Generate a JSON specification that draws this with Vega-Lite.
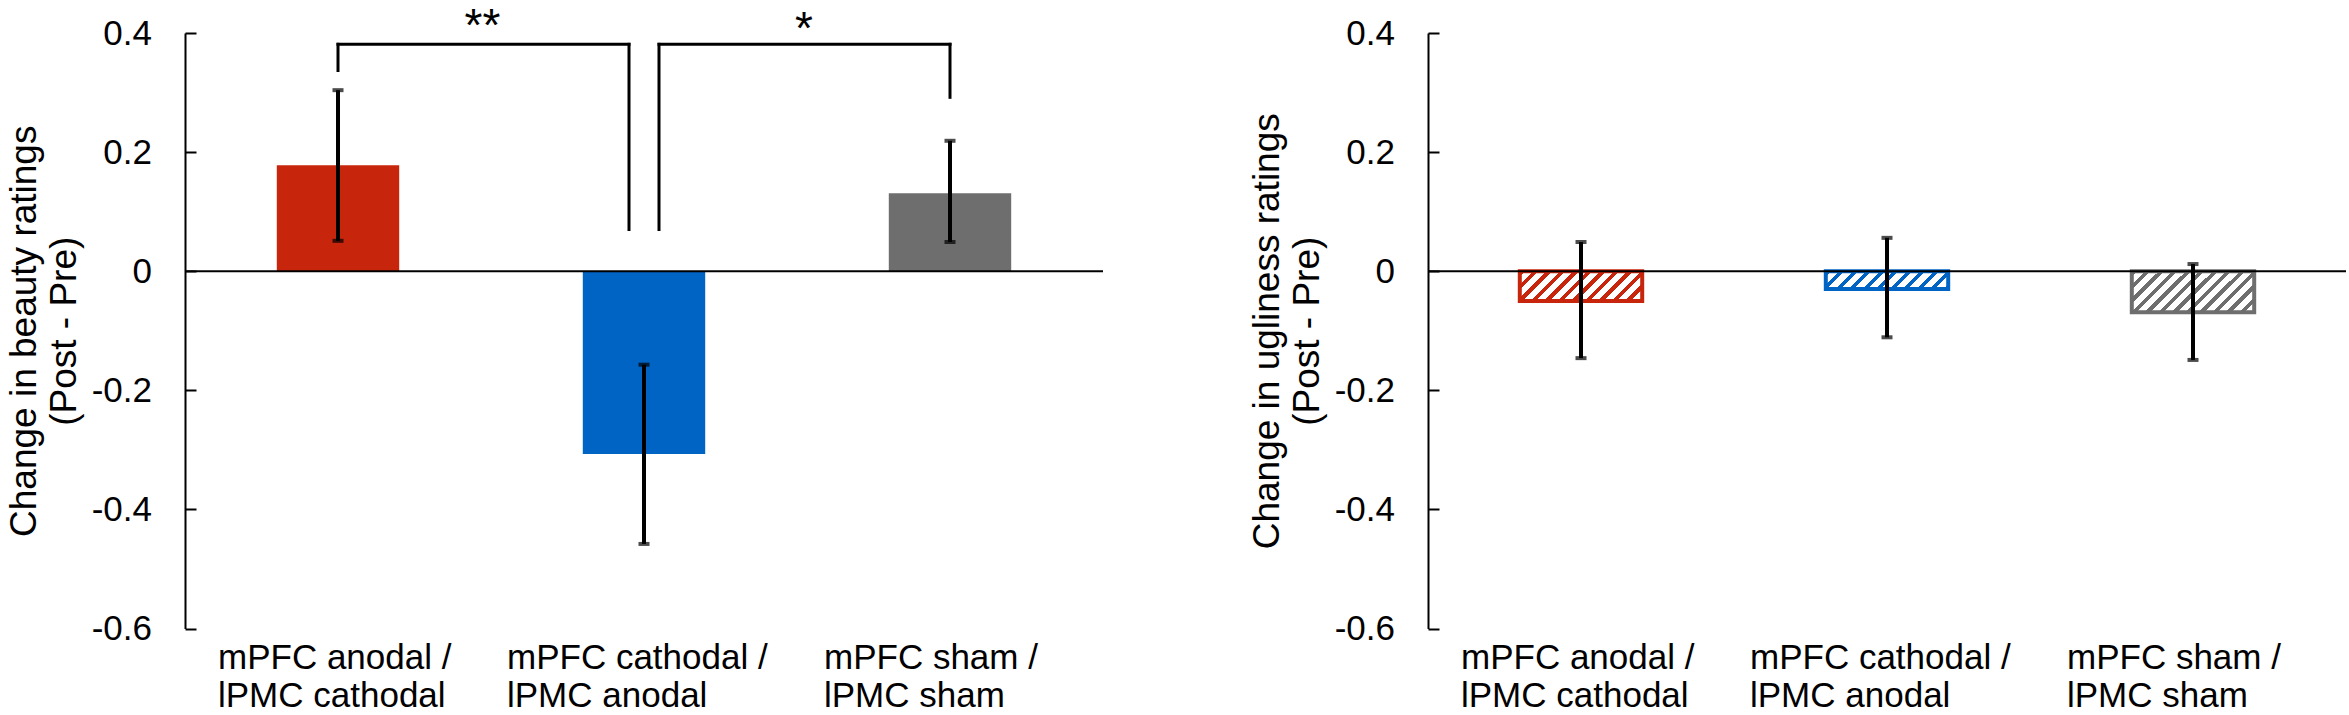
{
  "$schema": "https://vega.github.io/schema/vega-lite/v6.json",
  "padding": {"left": 5, "top": 4, "right": 0, "bottom": 0},
  "background": "white",
  "bounds": "flush",
  "spacing": 325,
  "config": {
    "view": {"stroke": null},
    "font": "Liberation Sans",
    "axis": {"labelColor": "black", "titleColor": "black", "domainColor": "black", "tickColor": "black"}
  },
  "datasets": {
    "beauty": [
      {"cond": "mPFC anodal / lPMC cathodal", "mean": 0.178, "lo": 0.051, "hi": 0.304},
      {"cond": "mPFC cathodal / lPMC anodal", "mean": -0.307, "lo": -0.458, "hi": -0.157},
      {"cond": "mPFC sham / lPMC sham", "mean": 0.131, "lo": 0.049, "hi": 0.219}
    ],
    "ugly": [
      {"cond": "mPFC anodal / lPMC cathodal", "mean": -0.05, "lo": -0.146, "hi": 0.049},
      {"cond": "mPFC cathodal / lPMC anodal", "mean": -0.03, "lo": -0.111, "hi": 0.056},
      {"cond": "mPFC sham / lPMC sham", "mean": -0.069, "lo": -0.149, "hi": 0.012}
    ]
  },
  "hconcat": [
    {
      "width": 918,
      "height": 595.5,
      "layer": [
        {
          "data": {"name": "beauty"},
          "mark": {"type": "bar"},
          "encoding": {
            "x": {
              "field": "cond", "type": "nominal",
              "scale": {"domain": ["mPFC anodal / lPMC cathodal", "mPFC cathodal / lPMC anodal", "mPFC sham / lPMC sham"], "paddingInner": 0.6, "paddingOuter": 0.3},
              "axis": {
                "title": null, "domain": false, "ticks": false, "labelAngle": 0, "labelAlign": "left", "labelBaseline": "top",
                "labelOffset": {"condition": [{"test": "datum.value == 'mPFC cathodal / lPMC anodal'", "value": -137}, {"test": "datum.value == 'mPFC sham / lPMC sham'", "value": -126}], "value": -120},
                "labelExpr": "[slice(datum.label, 0, indexof(datum.label, '/') + 1), slice(datum.label, indexof(datum.label, '/') + 2)]",
                "labelPadding": 12, "labelFontSize": 35, "labelLineHeight": 38, "labelOverlap": false, "labelLimit": 600
              }
            },
            "y": {
              "field": "mean", "type": "quantitative",
              "scale": {"domain": [-0.6, 0.4], "nice": false, "zero": false},
              "title": ["Change in beauty ratings", "(Post - Pre)"],
              "axis": {
                "values": [-0.6, -0.4, -0.2, 0, 0.2, 0.4], "grid": false, "tickSize": -11, "tickWidth": 2, "domainWidth": 2,
                "labelPadding": 44.5, "labelFontSize": 35,
                "labelExpr": "datum.value == 0 ? '0' : (datum.value < 0 ? '-' : '') + format(abs(datum.value), '.1f')",
                "titleFontSize": 37, "titleFontWeight": "normal", "titleLineHeight": 40, "titlePadding": 8
              }
            },
            "color": {
              "field": "cond", "type": "nominal", "legend": null,
              "scale": {"domain": ["mPFC anodal / lPMC cathodal", "mPFC cathodal / lPMC anodal", "mPFC sham / lPMC sham"], "range": ["#C8260C", "#0064C4", "#6E6E6E"]}
            }
          }
        },
        {
          "data": {"values": [{"zero": 0}]},
          "mark": {"type": "rule", "color": "black", "strokeWidth": 2},
          "encoding": {"y": {"field": "zero", "type": "quantitative"}}
        },
        {
          "data": {"name": "beauty"},
          "mark": {"type": "rule", "color": "black", "strokeWidth": 4},
          "encoding": {
            "x": {"field": "cond", "type": "nominal"},
            "y": {"field": "lo", "type": "quantitative"},
            "y2": {"field": "hi"}
          }
        },
        {
          "data": {"name": "beauty"},
          "mark": {"type": "tick", "color": "black", "size": 11, "thickness": 4, "orient": "horizontal"},
          "encoding": {
            "x": {"field": "cond", "type": "nominal"},
            "y": {"field": "lo", "type": "quantitative"}
          }
        },
        {
          "data": {"name": "beauty"},
          "mark": {"type": "tick", "color": "black", "size": 11, "thickness": 4, "orient": "horizontal"},
          "encoding": {
            "x": {"field": "cond", "type": "nominal"},
            "y": {"field": "hi", "type": "quantitative"}
          }
        },
        {
          "data": {"values": [{"a": "mPFC anodal / lPMC cathodal", "b": "mPFC cathodal / lPMC anodal", "y": 0.381}]},
          "mark": {"type": "rule", "color": "black", "strokeWidth": 3, "strokeCap": "square", "x2Offset": -15},
          "encoding": {
            "x": {"field": "a", "type": "nominal"},
            "x2": {"field": "b"},
            "y": {"field": "y", "type": "quantitative"}
          }
        },
        {
          "data": {"values": [{"a": "mPFC cathodal / lPMC anodal", "b": "mPFC sham / lPMC sham", "y": 0.381}]},
          "mark": {"type": "rule", "color": "black", "strokeWidth": 3, "strokeCap": "square", "xOffset": 15},
          "encoding": {
            "x": {"field": "a", "type": "nominal"},
            "x2": {"field": "b"},
            "y": {"field": "y", "type": "quantitative"}
          }
        },
        {
          "data": {"values": [
            {"a": "mPFC anodal / lPMC cathodal", "y": 0.337, "y2": 0.381},
            {"a": "mPFC sham / lPMC sham", "y": 0.292, "y2": 0.381}
          ]},
          "mark": {"type": "rule", "color": "black", "strokeWidth": 3, "strokeCap": "square"},
          "encoding": {
            "x": {"field": "a", "type": "nominal"},
            "y": {"field": "y", "type": "quantitative"},
            "y2": {"field": "y2"}
          }
        },
        {
          "data": {"values": [{"a": "mPFC cathodal / lPMC anodal", "y": 0.07, "y2": 0.381}]},
          "mark": {"type": "rule", "color": "black", "strokeWidth": 3, "strokeCap": "square", "xOffset": -15},
          "encoding": {
            "x": {"field": "a", "type": "nominal"},
            "y": {"field": "y", "type": "quantitative"},
            "y2": {"field": "y2"}
          }
        },
        {
          "data": {"values": [{"a": "mPFC cathodal / lPMC anodal", "y": 0.07, "y2": 0.381}]},
          "mark": {"type": "rule", "color": "black", "strokeWidth": 3, "strokeCap": "square", "xOffset": 15},
          "encoding": {
            "x": {"field": "a", "type": "nominal"},
            "y": {"field": "y", "type": "quantitative"},
            "y2": {"field": "y2"}
          }
        },
        {
          "data": {"values": [{"a": "mPFC cathodal / lPMC anodal", "y": 0.386, "label": "**"}]},
          "mark": {"type": "text", "color": "black", "fontSize": 46, "baseline": "alphabetic", "align": "center", "dx": -161.5},
          "encoding": {
            "x": {"field": "a", "type": "nominal"},
            "y": {"field": "y", "type": "quantitative"},
            "text": {"field": "label"}
          }
        },
        {
          "data": {"values": [{"a": "mPFC sham / lPMC sham", "y": 0.382, "label": "*"}]},
          "mark": {"type": "text", "color": "black", "fontSize": 46, "baseline": "alphabetic", "align": "center", "dx": -146},
          "encoding": {
            "x": {"field": "a", "type": "nominal"},
            "y": {"field": "y", "type": "quantitative"},
            "text": {"field": "label"}
          }
        }
      ]
    },
    {
      "width": 918,
      "height": 595.5,
      "layer": [
        {
          "data": {"name": "ugly"},
          "transform": [{"filter": "datum.cond == 'mPFC anodal / lPMC cathodal'"}],
          "mark": {"type": "bar", "stroke": "#C8260C", "strokeWidth": 4,
            "fill": {"gradient": "linear", "x1": 0, "y1": 0, "x2": 1.388, "y2": 0.338, "stops": [
              {"offset": 0, "color": "#C8260C"}, {"offset": 0.03, "color": "#C8260C"}, {"offset": 0.03, "color": "#FFFFFF"}, {"offset": 0.075, "color": "#FFFFFF"},
              {"offset": 0.075, "color": "#C8260C"}, {"offset": 0.105, "color": "#C8260C"}, {"offset": 0.105, "color": "#FFFFFF"}, {"offset": 0.15, "color": "#FFFFFF"},
              {"offset": 0.15, "color": "#C8260C"}, {"offset": 0.18, "color": "#C8260C"}, {"offset": 0.18, "color": "#FFFFFF"}, {"offset": 0.225, "color": "#FFFFFF"},
              {"offset": 0.225, "color": "#C8260C"}, {"offset": 0.255, "color": "#C8260C"}, {"offset": 0.255, "color": "#FFFFFF"}, {"offset": 0.3, "color": "#FFFFFF"},
              {"offset": 0.3, "color": "#C8260C"}, {"offset": 0.33, "color": "#C8260C"}, {"offset": 0.33, "color": "#FFFFFF"}, {"offset": 0.375, "color": "#FFFFFF"},
              {"offset": 0.375, "color": "#C8260C"}, {"offset": 0.405, "color": "#C8260C"}, {"offset": 0.405, "color": "#FFFFFF"}, {"offset": 0.45, "color": "#FFFFFF"},
              {"offset": 0.45, "color": "#C8260C"}, {"offset": 0.48, "color": "#C8260C"}, {"offset": 0.48, "color": "#FFFFFF"}, {"offset": 0.525, "color": "#FFFFFF"},
              {"offset": 0.525, "color": "#C8260C"}, {"offset": 0.555, "color": "#C8260C"}, {"offset": 0.555, "color": "#FFFFFF"}, {"offset": 0.6, "color": "#FFFFFF"},
              {"offset": 0.6, "color": "#C8260C"}, {"offset": 0.63, "color": "#C8260C"}, {"offset": 0.63, "color": "#FFFFFF"}, {"offset": 0.675, "color": "#FFFFFF"},
              {"offset": 0.675, "color": "#C8260C"}, {"offset": 0.705, "color": "#C8260C"}, {"offset": 0.705, "color": "#FFFFFF"}, {"offset": 0.75, "color": "#FFFFFF"},
              {"offset": 0.75, "color": "#C8260C"}, {"offset": 0.78, "color": "#C8260C"}, {"offset": 0.78, "color": "#FFFFFF"}, {"offset": 0.825, "color": "#FFFFFF"},
              {"offset": 0.825, "color": "#C8260C"}, {"offset": 0.855, "color": "#C8260C"}, {"offset": 0.855, "color": "#FFFFFF"}, {"offset": 0.9, "color": "#FFFFFF"},
              {"offset": 0.9, "color": "#C8260C"}, {"offset": 0.93, "color": "#C8260C"}, {"offset": 0.93, "color": "#FFFFFF"}, {"offset": 1, "color": "#FFFFFF"}
            ]}
          },
          "encoding": {
            "x": {
              "field": "cond", "type": "nominal",
              "scale": {"domain": ["mPFC anodal / lPMC cathodal", "mPFC cathodal / lPMC anodal", "mPFC sham / lPMC sham"], "paddingInner": 0.6, "paddingOuter": 0.3},
              "axis": {
                "title": null, "domain": false, "ticks": false, "labelAngle": 0, "labelAlign": "left", "labelBaseline": "top",
                "labelOffset": {"condition": [{"test": "datum.value == 'mPFC cathodal / lPMC anodal'", "value": -137}, {"test": "datum.value == 'mPFC sham / lPMC sham'", "value": -126}], "value": -120},
                "labelExpr": "[slice(datum.label, 0, indexof(datum.label, '/') + 1), slice(datum.label, indexof(datum.label, '/') + 2)]",
                "labelPadding": 12, "labelFontSize": 35, "labelLineHeight": 38, "labelOverlap": false, "labelLimit": 600
              }
            },
            "y": {
              "field": "mean", "type": "quantitative",
              "scale": {"domain": [-0.6, 0.4], "nice": false, "zero": false},
              "title": ["Change in ugliness ratings", "(Post - Pre)"],
              "axis": {
                "values": [-0.6, -0.4, -0.2, 0, 0.2, 0.4], "grid": false, "tickSize": -11, "tickWidth": 2, "domainWidth": 2,
                "labelPadding": 44.5, "labelFontSize": 35,
                "labelExpr": "datum.value == 0 ? '0' : (datum.value < 0 ? '-' : '') + format(abs(datum.value), '.1f')",
                "titleFontSize": 37, "titleFontWeight": "normal", "titleLineHeight": 40, "titlePadding": 8
              }
            },
            "y2": {"datum": 0}
          }
        },
        {
          "data": {"name": "ugly"},
          "transform": [{"filter": "datum.cond == 'mPFC cathodal / lPMC anodal'"}],
          "mark": {"type": "bar", "stroke": "#0064C4", "strokeWidth": 4,
            "fill": {"gradient": "linear", "x1": 0, "y1": 0, "x2": 1.44, "y2": 0.21, "stops": [
              {"offset": 0, "color": "#0064C4"}, {"offset": 0.03, "color": "#0064C4"}, {"offset": 0.03, "color": "#FFFFFF"}, {"offset": 0.075, "color": "#FFFFFF"},
              {"offset": 0.075, "color": "#0064C4"}, {"offset": 0.105, "color": "#0064C4"}, {"offset": 0.105, "color": "#FFFFFF"}, {"offset": 0.15, "color": "#FFFFFF"},
              {"offset": 0.15, "color": "#0064C4"}, {"offset": 0.18, "color": "#0064C4"}, {"offset": 0.18, "color": "#FFFFFF"}, {"offset": 0.225, "color": "#FFFFFF"},
              {"offset": 0.225, "color": "#0064C4"}, {"offset": 0.255, "color": "#0064C4"}, {"offset": 0.255, "color": "#FFFFFF"}, {"offset": 0.3, "color": "#FFFFFF"},
              {"offset": 0.3, "color": "#0064C4"}, {"offset": 0.33, "color": "#0064C4"}, {"offset": 0.33, "color": "#FFFFFF"}, {"offset": 0.375, "color": "#FFFFFF"},
              {"offset": 0.375, "color": "#0064C4"}, {"offset": 0.405, "color": "#0064C4"}, {"offset": 0.405, "color": "#FFFFFF"}, {"offset": 0.45, "color": "#FFFFFF"},
              {"offset": 0.45, "color": "#0064C4"}, {"offset": 0.48, "color": "#0064C4"}, {"offset": 0.48, "color": "#FFFFFF"}, {"offset": 0.525, "color": "#FFFFFF"},
              {"offset": 0.525, "color": "#0064C4"}, {"offset": 0.555, "color": "#0064C4"}, {"offset": 0.555, "color": "#FFFFFF"}, {"offset": 0.6, "color": "#FFFFFF"},
              {"offset": 0.6, "color": "#0064C4"}, {"offset": 0.63, "color": "#0064C4"}, {"offset": 0.63, "color": "#FFFFFF"}, {"offset": 0.675, "color": "#FFFFFF"},
              {"offset": 0.675, "color": "#0064C4"}, {"offset": 0.705, "color": "#0064C4"}, {"offset": 0.705, "color": "#FFFFFF"}, {"offset": 0.75, "color": "#FFFFFF"},
              {"offset": 0.75, "color": "#0064C4"}, {"offset": 0.78, "color": "#0064C4"}, {"offset": 0.78, "color": "#FFFFFF"}, {"offset": 0.825, "color": "#FFFFFF"},
              {"offset": 0.825, "color": "#0064C4"}, {"offset": 0.855, "color": "#0064C4"}, {"offset": 0.855, "color": "#FFFFFF"}, {"offset": 0.9, "color": "#FFFFFF"},
              {"offset": 0.9, "color": "#0064C4"}, {"offset": 0.93, "color": "#0064C4"}, {"offset": 0.93, "color": "#FFFFFF"}, {"offset": 1, "color": "#FFFFFF"}
            ]}
          },
          "encoding": {
            "x": {"field": "cond", "type": "nominal"},
            "y": {"field": "mean", "type": "quantitative"},
            "y2": {"datum": 0}
          }
        },
        {
          "data": {"name": "ugly"},
          "transform": [{"filter": "datum.cond == 'mPFC sham / lPMC sham'"}],
          "mark": {"type": "bar", "stroke": "#6E6E6E", "strokeWidth": 4,
            "fill": {"gradient": "linear", "x1": 0, "y1": 0, "x2": 1.3216, "y2": 0.4438, "stops": [
              {"offset": 0, "color": "#6E6E6E"}, {"offset": 0.03, "color": "#6E6E6E"}, {"offset": 0.03, "color": "#FFFFFF"}, {"offset": 0.075, "color": "#FFFFFF"},
              {"offset": 0.075, "color": "#6E6E6E"}, {"offset": 0.105, "color": "#6E6E6E"}, {"offset": 0.105, "color": "#FFFFFF"}, {"offset": 0.15, "color": "#FFFFFF"},
              {"offset": 0.15, "color": "#6E6E6E"}, {"offset": 0.18, "color": "#6E6E6E"}, {"offset": 0.18, "color": "#FFFFFF"}, {"offset": 0.225, "color": "#FFFFFF"},
              {"offset": 0.225, "color": "#6E6E6E"}, {"offset": 0.255, "color": "#6E6E6E"}, {"offset": 0.255, "color": "#FFFFFF"}, {"offset": 0.3, "color": "#FFFFFF"},
              {"offset": 0.3, "color": "#6E6E6E"}, {"offset": 0.33, "color": "#6E6E6E"}, {"offset": 0.33, "color": "#FFFFFF"}, {"offset": 0.375, "color": "#FFFFFF"},
              {"offset": 0.375, "color": "#6E6E6E"}, {"offset": 0.405, "color": "#6E6E6E"}, {"offset": 0.405, "color": "#FFFFFF"}, {"offset": 0.45, "color": "#FFFFFF"},
              {"offset": 0.45, "color": "#6E6E6E"}, {"offset": 0.48, "color": "#6E6E6E"}, {"offset": 0.48, "color": "#FFFFFF"}, {"offset": 0.525, "color": "#FFFFFF"},
              {"offset": 0.525, "color": "#6E6E6E"}, {"offset": 0.555, "color": "#6E6E6E"}, {"offset": 0.555, "color": "#FFFFFF"}, {"offset": 0.6, "color": "#FFFFFF"},
              {"offset": 0.6, "color": "#6E6E6E"}, {"offset": 0.63, "color": "#6E6E6E"}, {"offset": 0.63, "color": "#FFFFFF"}, {"offset": 0.675, "color": "#FFFFFF"},
              {"offset": 0.675, "color": "#6E6E6E"}, {"offset": 0.705, "color": "#6E6E6E"}, {"offset": 0.705, "color": "#FFFFFF"}, {"offset": 0.75, "color": "#FFFFFF"},
              {"offset": 0.75, "color": "#6E6E6E"}, {"offset": 0.78, "color": "#6E6E6E"}, {"offset": 0.78, "color": "#FFFFFF"}, {"offset": 0.825, "color": "#FFFFFF"},
              {"offset": 0.825, "color": "#6E6E6E"}, {"offset": 0.855, "color": "#6E6E6E"}, {"offset": 0.855, "color": "#FFFFFF"}, {"offset": 0.9, "color": "#FFFFFF"},
              {"offset": 0.9, "color": "#6E6E6E"}, {"offset": 0.93, "color": "#6E6E6E"}, {"offset": 0.93, "color": "#FFFFFF"}, {"offset": 1, "color": "#FFFFFF"}
            ]}
          },
          "encoding": {
            "x": {"field": "cond", "type": "nominal"},
            "y": {"field": "mean", "type": "quantitative"},
            "y2": {"datum": 0}
          }
        },
        {
          "data": {"values": [{"zero": 0}]},
          "mark": {"type": "rule", "color": "black", "strokeWidth": 2},
          "encoding": {"y": {"field": "zero", "type": "quantitative"}}
        },
        {
          "data": {"name": "ugly"},
          "mark": {"type": "rule", "color": "black", "strokeWidth": 4},
          "encoding": {
            "x": {"field": "cond", "type": "nominal"},
            "y": {"field": "lo", "type": "quantitative"},
            "y2": {"field": "hi"}
          }
        },
        {
          "data": {"name": "ugly"},
          "mark": {"type": "tick", "color": "black", "size": 11, "thickness": 4, "orient": "horizontal"},
          "encoding": {
            "x": {"field": "cond", "type": "nominal"},
            "y": {"field": "lo", "type": "quantitative"}
          }
        },
        {
          "data": {"name": "ugly"},
          "mark": {"type": "tick", "color": "black", "size": 11, "thickness": 4, "orient": "horizontal"},
          "encoding": {
            "x": {"field": "cond", "type": "nominal"},
            "y": {"field": "hi", "type": "quantitative"}
          }
        }
      ]
    }
  ]
}
